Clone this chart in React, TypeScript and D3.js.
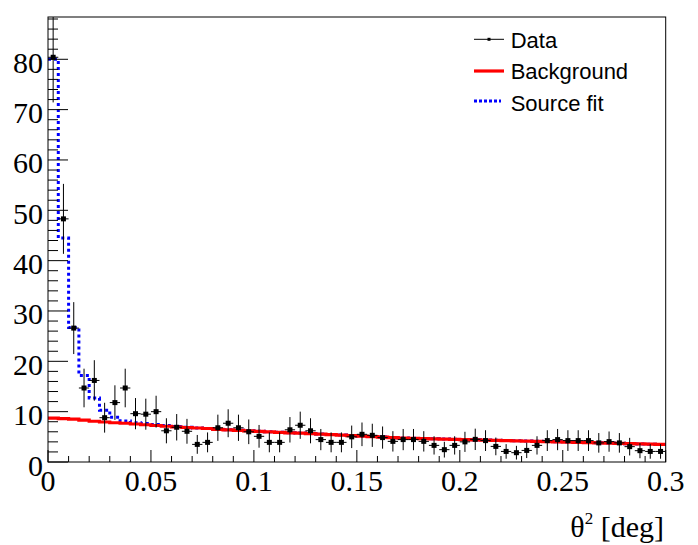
import React from "react";
import * as d3 from "d3";

// ---- data (60 bins of 0.005 deg^2) ----
const binEdgesStart = 0;
const binWidth = 0.005;
const dataValues = [
  80.4, 48.3, 26.6, 14.7, 16.2, 8.8, 11.8, 14.7, 9.6, 9.5,
  10.0, 6.2, 6.9, 6.1, 3.5, 3.9, 6.8, 7.7, 6.8, 6.0,
  5.1, 3.9, 3.9, 6.4, 7.3, 6.2, 4.45, 3.9, 3.9, 5.0,
  5.5, 5.3, 4.85, 4.1, 4.45, 4.45, 4.1, 3.3, 2.45, 3.3,
  4.0, 4.5, 4.25, 3.1, 2.1, 1.85, 2.3, 3.3, 4.25, 4.45,
  4.25, 4.25, 4.25, 3.8, 4.05, 3.8, 3.05, 2.25, 2.1, 2.1,
];
const backgroundValues = [
  8.7, 8.6, 8.5, 8.3, 8.1, 7.95, 7.8, 7.7, 7.55, 7.4,
  7.25, 7.1, 6.95, 6.85, 6.75, 6.65, 6.5, 6.4, 6.3, 6.2,
  6.1, 6.0, 5.9, 5.8, 5.75, 5.65, 5.55, 5.45, 5.35, 5.25,
  5.15, 5.05, 4.95, 4.85, 4.75, 4.7, 4.65, 4.6, 4.55, 4.5,
  4.45, 4.4, 4.35, 4.3, 4.25, 4.2, 4.15, 4.1, 4.05, 4.0,
  3.95, 3.9, 3.85, 3.8, 3.75, 3.7, 3.65, 3.6, 3.55, 3.5,
];
const sourceFitValues = [
  80.0, 44.5, 26.7, 17.2, 12.7, 10.3, 8.9, 8.15, 7.8, 7.65,
  7.45, 7.25, 7.05, 6.9, 6.75, 6.65, 6.5, 6.4, 6.3, 6.2,
  6.1, 6.0, 5.9, 5.8, 5.75, 5.65, 5.55, 5.45, 5.35, 5.25,
  5.15, 5.05, 4.95, 4.85, 4.75, 4.7, 4.65, 4.6, 4.55, 4.5,
  4.45, 4.4, 4.35, 4.3, 4.25, 4.2, 4.15, 4.1, 4.05, 4.0,
  3.95, 3.9, 3.85, 3.8, 3.75, 3.7, 3.65, 3.6, 3.55, 3.5,
];
const xTickValues = [0, 0.05, 0.1, 0.15, 0.2, 0.25, 0.3];
const xTickLabels = ["0", "0.05", "0.1", "0.15", "0.2", "0.25", "0.3"];
const yTickValues = [0, 10, 20, 30, 40, 50, 60, 70, 80];
const yTickLabels = ["0", "10", "20", "30", "40", "50", "60", "70", "80"];
const legendLabels = ["Data", "Background", "Source fit"];

const W = 698;
const H = 545;
const L = 48;
const R = 665.7;
const T = 17;
const B = 462;
const X_MAX = 0.3;
const Y_MAX = 88.4;

const serif = "'Liberation Serif', 'Times New Roman', serif";
const sans = "'Liberation Sans', Arial, sans-serif";

export default function App() {
  const x = d3.scaleLinear().domain([0, X_MAX]).range([L, R]);
  const y = d3.scaleLinear().domain([0, Y_MAX]).range([B, T]);

  const stepPath = (vals: number[]) => {
    const pts: [number, number][] = vals.map((v, i) => [binEdgesStart + i * binWidth, v]);
    pts.push([binEdgesStart + vals.length * binWidth, vals[vals.length - 1]]);
    return (
      d3
        .line<[number, number]>()
        .x((d) => x(d[0]))
        .y((d) => y(d[1]))
        .curve(d3.curveStepAfter)(pts) || ""
    );
  };

  const xMinor = d3.range(0, 31).map((i) => i * 0.01);
  const yMinor = d3.range(0, 45).map((i) => i * 2);

  return (
    <svg
      width={W}
      height={H}
      style={{ position: "absolute", left: 0, top: 0, background: "#fff" }}
    >
      <rect x={0} y={0} width={W} height={H} fill="#fff" />
      <defs>
        <clipPath id="frame">
          <rect x={L} y={T} width={R - L} height={B - T} />
        </clipPath>
      </defs>

      <g clipPath="url(#frame)">
        <path
          d={stepPath(sourceFitValues)}
          fill="none"
          stroke="#0000ff"
          strokeWidth={3}
          strokeDasharray="3 3"
        />
        <path d={stepPath(backgroundValues)} fill="none" stroke="#ff0000" strokeWidth={3.2} />
        {dataValues.map((v, i) => {
          const lo = binEdgesStart + i * binWidth;
          const hi = lo + binWidth;
          const cx = x((lo + hi) / 2);
          const cy = y(v);
          const err = Math.sqrt(v);
          return (
            <g key={i}>
              <line x1={cx} x2={cx} y1={y(v + err)} y2={y(Math.max(0, v - err))} stroke="#000" strokeWidth={1} />
              <line x1={x(lo)} x2={x(hi)} y1={cy} y2={cy} stroke="#000" strokeWidth={1} />
              <rect x={cx - 2.5} y={cy - 2.5} width={5} height={5} fill="#000" />
            </g>
          );
        })}
      </g>

      {/* frame */}
      <rect x={L} y={T} width={R - L} height={B - T} fill="none" stroke="#000" strokeWidth={1} />

      {/* x ticks */}
      {xMinor.map((t, i) => {
        const major = i % 5 === 0;
        return (
          <line key={"xm" + i} x1={x(t)} x2={x(t)} y1={B} y2={B - (major ? 12 : 6)} stroke="#000" strokeWidth={1} />
        );
      })}
      {xTickValues.map((t, i) => (
        <text key={"xl" + i} x={x(t)} y={491} textAnchor="middle" fontFamily={serif} fontSize={30} fill="#000">
          {xTickLabels[i]}
        </text>
      ))}

      {/* y ticks */}
      {yMinor.map((t, i) => {
        const major = i % 5 === 0;
        return (
          <line key={"ym" + i} x1={L} x2={L + (major ? 20 : 10)} y1={y(t)} y2={y(t)} stroke="#000" strokeWidth={1} />
        );
      })}
      {yTickValues.map((t, i) => (
        <text key={"yl" + i} x={43} y={y(t) + 13.5} textAnchor="end" fontFamily={serif} fontSize={30} fill="#000">
          {yTickLabels[i]}
        </text>
      ))}

      {/* axis title */}
      <text x={664} y={537} textAnchor="end" fontFamily={serif} fontSize={30} fill="#000">
        θ
        <tspan fontSize={17} dy={-13}>2</tspan>
        <tspan dy={13}> [deg]</tspan>
      </text>

      {/* legend */}
      <g>
        <line x1={474} x2={504} y1={39.3} y2={39.3} stroke="#000" strokeWidth={1} />
        <rect x={487.5} y={37.8} width={3} height={3} fill="#000" />
        <text x={510.7} y={48.3} fontFamily={sans} fontSize={22} fill="#000">
          {legendLabels[0]}
        </text>
        <line x1={474} x2={504} y1={71} y2={71} stroke="#ff0000" strokeWidth={3.2} />
        <text x={510.7} y={78.8} fontFamily={sans} fontSize={22} fill="#000">
          {legendLabels[1]}
        </text>
        <line x1={474} x2={501} y1={101} y2={101} stroke="#0000ff" strokeWidth={3} strokeDasharray="3 2" />
        <text x={510.7} y={111} fontFamily={sans} fontSize={22} fill="#000">
          {legendLabels[2]}
        </text>
      </g>
    </svg>
  );
}
